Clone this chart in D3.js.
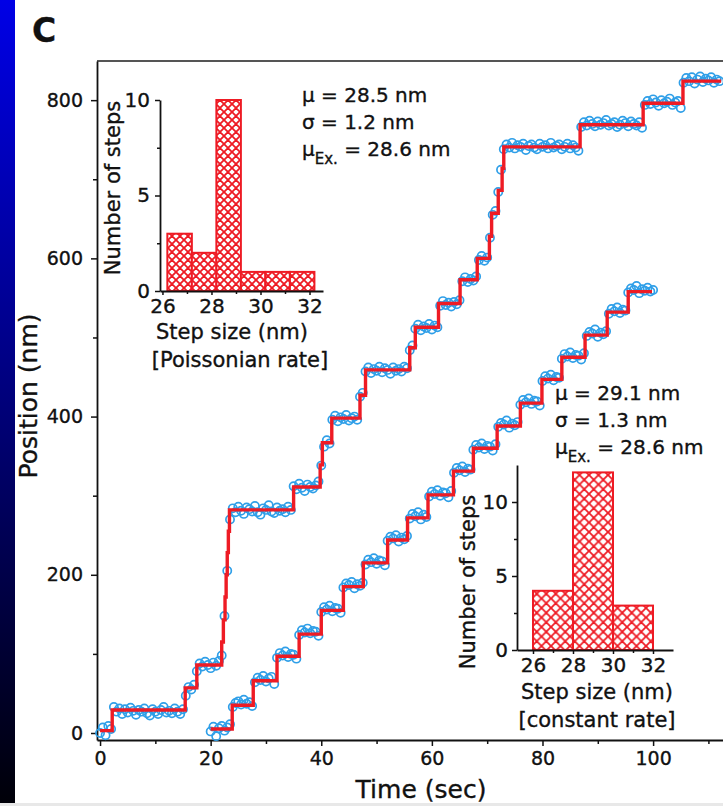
<!DOCTYPE html>
<html>
<head>
<meta charset="utf-8">
<script src="https://cdn.jsdelivr.net/npm/d3@7"></script>
<style>
  html, body { margin: 0; padding: 0; background: #fff; }
  svg { display: block; font-family: "DejaVu Sans", "Liberation Sans", sans-serif; }
  svg text { stroke: #111; stroke-width: 0.35px; }
</style>
</head>
<body>
<svg id="chart" width="723" height="806"></svg>
<script>
// ---- Step fits (red staircases): time at which each level begins, and the level ----
const poissonStepTimes  = [0, 2.2, 15.4, 17.5, 22.0, 22.3, 22.6, 22.8, 23.0, 23.2, 23.4, 35.0, 39.8, 40.2, 41.9, 47.0, 48.0, 56.0, 57.0, 61.2, 65.1, 68.2, 70.4, 70.8, 72.0, 72.7, 73.0, 86.8, 98.2, 105.4, 112.3];
const poissonStepLevels = [3, 29, 57, 86, 115, 143, 172, 200, 228, 255, 282, 311, 339, 367, 398, 427, 459, 487, 513, 543, 573, 600, 628, 657, 686, 714, 741, 769, 796, 824, 824];

const constantStepTimes  = [20, 23.9, 27.7, 32, 36, 40, 44, 47.6, 52, 55.6, 59.3, 63.9, 67.5, 71.8, 76, 79.9, 83.5, 87.7, 91.7, 95.5, 99.8];
const constantStepLevels = [5, 35, 66, 97, 125, 155, 185, 215, 244, 272, 301, 331, 360, 388, 417, 447, 475, 503, 532, 558, 558];

// ---- Measured bead positions (nm), sampled every 0.5 s ----
const sampleInterval = 0.5;
const poissonStart = 0;
const poissonPositions = [
  0, 7, -3, 9, 5,
  33, 27, 31, 24, 30, 26, 32, 28, 23, 29, 27, 31, 25, 22, 30, 27, 24, 29, 33, 26, 28, 25, 31, 27, 24, 30,
  47, 58, 55, 61,
  78, 88, 84, 90, 86, 82, 89, 85, 91,
  98, 148, 205,
  270, 284, 279, 286, 281, 277, 285, 283, 280, 287, 279, 276, 284, 282, 288, 280, 278, 285, 281, 283, 279, 286, 282,
  312, 308, 315, 310, 306, 314, 311, 309, 313, 318,
  338, 362, 370, 366,
  396, 401, 394, 399, 397, 402, 395, 398, 400, 396,
  425, 430,
  457, 462, 455, 460, 458, 463, 456, 461, 459, 454, 462, 458, 460, 457, 463, 461,
  484, 490,
  511, 516, 509, 514, 512, 517, 510, 515, 513,
  540, 546, 541, 544, 539, 545, 542, 547,
  571, 576, 570, 574, 572, 577,
  598, 603, 597, 601,
  626, 655, 660, 684, 712,
  738, 744, 740, 746, 739, 743, 741, 745, 737, 742, 744, 740, 738, 745, 741, 743, 739, 746, 740, 742, 744, 738, 741, 745, 739, 743, 740, 736,
  766, 772, 768, 774, 770, 767, 773, 769, 771, 775, 768, 770, 772, 766, 769, 774, 771, 767, 773, 770, 768, 772, 765,
  794, 799, 795, 801, 797, 793, 800, 796, 798, 802, 794, 797, 799, 790,
  822, 828, 824, 829, 821, 826, 830, 823, 827, 825, 829, 822, 826, 824
];
const constantStart = 20;
const constantPositions = [
  2, 8, -4, 6, 9, 3, 7, 11,
  33, 38, 40, 36, 42, 37, 39, 34,
  64, 70, 67, 72, 65, 69, 71, 62,
  95, 101, 98, 103, 96, 100, 99, 94,
  124, 130, 127, 132, 126, 129, 128, 123,
  153, 159, 156, 161, 154, 158, 157, 152,
  184, 189, 187, 191, 183, 188, 186, 190,
  213, 219, 216, 221, 214, 218, 217, 212,
  243, 248, 246, 250, 242, 247, 245, 249,
  271, 277, 274, 279, 270, 276, 273,
  299, 305, 302, 307, 300, 304, 303, 298, 306,
  329, 335, 332, 337, 330, 334, 333,
  358, 364, 361, 366, 359, 363, 362, 357, 365,
  387, 392, 390, 395, 386, 391, 389, 393,
  415, 421, 418, 423, 416, 420, 419, 414,
  445, 451, 448, 453, 446, 450, 449,
  473, 479, 476, 481, 474, 478, 477, 472, 480,
  502, 507, 505, 510, 501, 506, 504, 508,
  530, 536, 533, 538, 531, 535, 534,
  557, 562, 560, 565, 556, 561, 559, 563, 558, 560
];

// ---- Main axes ticks ----
const timeTicks = [0, 20, 40, 60, 80, 100];
const timeMinorTicks = [10, 30, 50, 70, 90, 110];
const positionTicks = [0, 200, 400, 600, 800];
const positionMinorTicks = [100, 300, 500, 700];

// ---- Step-size histograms ----
const poissonBinStarts = [26.2, 27.2, 28.2, 29.2, 30.2, 31.2];
const poissonBinWidth = 1;
const poissonCounts = [3, 2, 10, 1, 1, 1];
const constantBinStarts = [26, 28, 30];
const constantBinWidth = 2;
const constantCounts = [4, 12, 3];
const stepSizeTicks = [26, 28, 30, 32];
const stepSizeMinorTicks = [27, 29, 31];
const countTicks = [0, 5, 10];
const countMinorTicks = [2.5, 7.5];

const poissonStats = ["28.5", "1.2", "28.6"];
const constantStats = ["29.1", "1.3", "28.6"];

const RED = "#ee1b24";
const BLUE = "#2f9fe8";
const INK = "#111";

const svg = d3.select("#chart");
const defs = svg.append("defs");

// side bar gradient
const grad = defs.append("linearGradient").attr("id", "sideBar")
  .attr("x1", 0).attr("y1", 0).attr("x2", 0).attr("y2", 1);
grad.append("stop").attr("offset", "0%").attr("stop-color", "#0000e6");
grad.append("stop").attr("offset", "50%").attr("stop-color", "#00007a");
grad.append("stop").attr("offset", "100%").attr("stop-color", "#000008");

// cross-hatch fills for the histogram bars
function hatch(id, size) {
  const p = defs.append("pattern").attr("id", id)
    .attr("patternUnits", "userSpaceOnUse")
    .attr("width", size).attr("height", size);
  p.append("rect").attr("width", size).attr("height", size).attr("fill", "#fff");
  p.append("path")
    .attr("d", `M0,0L${size},${size}M${size},0L0,${size}M${-size/2},${size/2}L${size/2},${size*1.5}M${size/2},${-size/2}L${size*1.5},${size/2}M${size/2},${-size/2}L${-size/2},${size/2}M${size*1.5},${size/2}L${size/2},${size*1.5}`)
    .attr("stroke", RED).attr("stroke-width", 1.8).attr("fill", "none");
}
hatch("hatchA", 8);
hatch("hatchB", 9.5);

svg.append("rect").attr("x", 0).attr("y", 0).attr("width", 15).attr("height", 803)
  .attr("fill", "url(#sideBar)");
svg.append("rect").attr("x", 0).attr("y", 803).attr("width", 723).attr("height", 3)
  .attr("fill", "#e8e8e8");

svg.append("text").attr("x", 32).attr("y", 42)
  .attr("font-size", 33).attr("font-weight", "bold").attr("fill", INK).text("C");

// ---- Main plot ----
const x = d3.scaleLinear().domain([-0.55, 113]).range([97, 725]);
const y = d3.scaleLinear().domain([-8.85, 849.5]).range([740, 61]);

svg.append("line").attr("x1", 97).attr("x2", 723).attr("y1", 61).attr("y2", 61)
  .attr("stroke", "#555").attr("stroke-width", 2);

function styleAxis(g, fs) {
  g.select(".domain").attr("stroke", INK).attr("stroke-width", 1.8);
  g.selectAll(".tick line").attr("stroke", INK).attr("stroke-width", 1.5);
  g.selectAll(".tick text").attr("font-size", fs).attr("fill", INK)
    .attr("font-family", "DejaVu Sans, sans-serif");
}

const gx = svg.append("g").attr("transform", "translate(0,740)")
  .call(d3.axisBottom(x).tickValues(timeTicks).tickSize(6).tickSizeOuter(0).tickPadding(6).tickFormat(d3.format("d")));
styleAxis(gx, 19);
const gxm = svg.append("g").attr("transform", "translate(0,740)")
  .call(d3.axisBottom(x).tickValues(timeMinorTicks).tickSize(4).tickSizeOuter(0).tickFormat(""));
styleAxis(gxm, 19);
gxm.select(".domain").remove();

const gy = svg.append("g").attr("transform", "translate(97,0)")
  .call(d3.axisLeft(y).tickValues(positionTicks).tickSize(6).tickSizeOuter(0).tickPadding(8).tickFormat(d3.format("d")));
styleAxis(gy, 19);
const gym = svg.append("g").attr("transform", "translate(97,0)")
  .call(d3.axisLeft(y).tickValues(positionMinorTicks).tickSize(4).tickSizeOuter(0).tickFormat(""));
styleAxis(gym, 19);
gym.select(".domain").remove();

svg.append("text").attr("x", 421).attr("y", 798).attr("text-anchor", "middle")
  .attr("font-size", 25).attr("fill", INK).text("Time (sec)");
svg.append("text").attr("transform", "translate(37,396) rotate(-90)")
  .attr("text-anchor", "middle").attr("font-size", 25).attr("fill", INK).text("Position (nm)");

// ---- Traces ----
function drawTrace(start, positions, stepTimes, stepLevels) {
  const pts = positions.map((p, i) => ({ t: start + i * sampleInterval, p }));
  svg.append("g").selectAll("circle").data(pts).join("circle")
    .attr("cx", d => x(d.t)).attr("cy", d => y(d.p)).attr("r", 4.1)
    .attr("fill", "none").attr("stroke", BLUE).attr("stroke-width", 1.7);
  const steps = stepTimes.map((t, i) => [t, stepLevels[i]]);
  svg.append("path").datum(steps)
    .attr("d", d3.line().x(d => x(d[0])).y(d => y(d[1])).curve(d3.curveStepAfter))
    .attr("fill", "none").attr("stroke", RED).attr("stroke-width", 3.4)
    .attr("stroke-linejoin", "miter");
}
drawTrace(poissonStart, poissonPositions, poissonStepTimes, poissonStepLevels);
drawTrace(constantStart, constantPositions, constantStepTimes, constantStepLevels);

// ---- Insets ----
function drawInset(opt) {
  const g = svg.append("g");
  const hx = d3.scaleLinear().domain(opt.xDomain).range(opt.xRange);
  const hy = d3.scaleLinear().domain(opt.yDomain).range(opt.yRange);
  g.selectAll("rect.bar").data(opt.starts).join("rect").attr("class", "bar")
    .attr("x", d => hx(d)).attr("width", d => hx(d + opt.width) - hx(d))
    .attr("y", (d, i) => hy(opt.counts[i])).attr("height", (d, i) => hy(0) - hy(opt.counts[i]))
    .attr("fill", `url(#${opt.pattern})`).attr("stroke", RED).attr("stroke-width", 2);

  const ax = g.append("g").attr("transform", `translate(0,${hy(0)})`)
    .call(d3.axisBottom(hx).tickValues(stepSizeTicks).tickSize(4).tickSizeOuter(0).tickPadding(4).tickFormat(d3.format("d")));
  styleAxis(ax, 20);
  const axm = g.append("g").attr("transform", `translate(0,${hy(0)})`)
    .call(d3.axisBottom(hx).tickValues(stepSizeMinorTicks).tickSize(3).tickSizeOuter(0).tickFormat(""));
  styleAxis(axm, 20);
  axm.select(".domain").remove();

  const ay = g.append("g").attr("transform", `translate(${opt.xRange[0]},0)`)
    .call(d3.axisLeft(hy).tickValues(countTicks).tickSize(5).tickSizeOuter(0).tickPadding(opt.yPad).tickFormat(d3.format("d")));
  styleAxis(ay, 20);
  const aym = g.append("g").attr("transform", `translate(${opt.xRange[0]},0)`)
    .call(d3.axisLeft(hy).tickValues(countMinorTicks).tickSize(3).tickSizeOuter(0).tickFormat(""));
  styleAxis(aym, 20);
  aym.select(".domain").remove();

  g.append("text").attr("transform", `translate(${opt.yTitleX},${opt.yTitleY}) rotate(-90)`)
    .attr("text-anchor", "middle").attr("font-size", 21).attr("fill", INK).text("Number of steps");
  g.append("text").attr("x", opt.xTitleX).attr("y", opt.xTitleY).attr("text-anchor", "middle")
    .attr("font-size", 21).attr("fill", INK).text("Step size (nm)");
  g.append("text").attr("x", opt.xTitleX + opt.noteShift).attr("y", opt.xTitleY + 28).attr("text-anchor", "middle")
    .attr("font-size", 21).attr("fill", INK).text(opt.note);

  const s = opt.stats;
  const st = g.append("g").attr("font-size", 20).attr("fill", INK);
  st.append("text").attr("x", opt.statX).attr("y", opt.statY).text(`μ = ${s[0]} nm`);
  st.append("text").attr("x", opt.statX).attr("y", opt.statY + 27).text(`σ = ${s[1]} nm`);
  const t3 = st.append("text").attr("x", opt.statX).attr("y", opt.statY + 54);
  t3.append("tspan").text("μ");
  t3.append("tspan").attr("font-size", 15).attr("dy", 8).text("Ex.");
  t3.append("tspan").attr("dy", -8).text(` = ${s[2]} nm`);
}

drawInset({
  xDomain: [25.9, 32.55], xRange: [160, 323],
  yDomain: [0, 10], yRange: [291, 100],
  starts: poissonBinStarts, width: poissonBinWidth, counts: poissonCounts,
  pattern: "hatchA", yPad: 5,
  yTitleX: 120, yTitleY: 188,
  xTitleX: 232, xTitleY: 339, noteShift: 8, note: "[Poissonian rate]",
  stats: poissonStats, statX: 302, statY: 102
});

drawInset({
  xDomain: [25.2, 33], xRange: [517, 673],
  yDomain: [0, 12.5], yRange: [650, 465],
  starts: constantBinStarts, width: constantBinWidth, counts: constantCounts,
  pattern: "hatchB", yPad: 4,
  yTitleX: 475, yTitleY: 582,
  xTitleX: 597, xTitleY: 699, noteShift: 0, note: "[constant rate]",
  stats: constantStats, statX: 555, statY: 400
});
</script>
</body>
</html>
